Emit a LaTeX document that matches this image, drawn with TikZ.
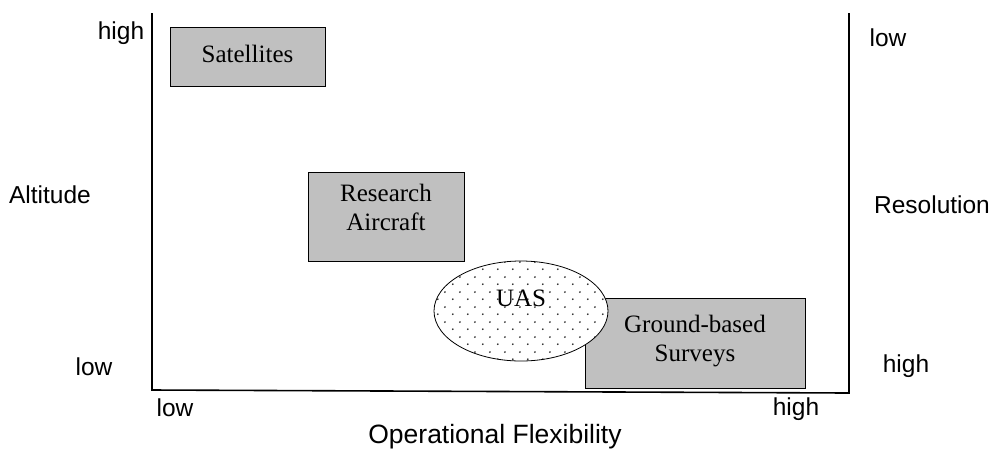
\documentclass[tikz,border=0pt]{standalone}
\usepackage{fontspec}
\setmainfont{Liberation Serif}
\setsansfont{Liberation Sans}
\usetikzlibrary{positioning, shapes.geometric, patterns.meta}

\tikzdeclarepattern{name=uasdots, type=uncolored,
  bounding box={(0pt,0pt) and (15pt,15pt)}, tile size={(15pt,15pt)},
  code={\fill (3pt,3pt) circle (1pt); \fill (10.5pt,10.5pt) circle (1pt);}}

\tikzset{
  platform/.style={draw, thick, fill={rgb,255:red,192;green,192;blue,192}, inner sep=0pt},
  boxtext/.style={align=center, font=\fontsize{25}{29}\selectfont, inner sep=0pt},
  axislabel/.style={font=\sffamily\fontsize{24.5}{27}\selectfont, inner sep=0pt}
}

\begin{document}
\begin{tikzpicture}[x=1pt, y=-1pt]
	\useasboundingbox (0,0) rectangle (995,451);
	% axes
	\coordinate (tl) at (152,13);
	\coordinate (o) at (152,390);
	\coordinate (br) at (849,393);
	\coordinate (tr) at (849,13);
	\draw[line width=1.6pt] (tl) -- (o) -- (br) -- (tr);
	% platforms
	\node[platform, minimum width=155pt, minimum height=59pt] (sat) at (247.5,56.5) {};
	\node[platform, minimum width=156pt, minimum height=89pt] (air) at (386,216.5) {};
	\node[platform, minimum width=220pt, minimum height=90pt] (gnd) at (695,343) {};
	\node[draw, thick, ellipse, inner sep=0pt, minimum width=174pt, minimum height=100pt,
		preaction={fill=white}, pattern={uasdots}, pattern color=black!85] (uas) at (521,311) {};
	\node[boxtext] (sattext) at ([yshift=3pt]sat.center) {Satellites};
	\node[boxtext] (airtext) at ([yshift=9pt]air.center) {Research\\Aircraft};
	\node[boxtext] (gndtext) at ([yshift=2pt]gnd.center) {Ground-based\\Surveys};
	\node[boxtext] (uastext) at ([yshift=13pt]uas.center) {UAS};
	% labels
	\node[axislabel] (alt) at (50,195) {Altitude};
	\node[axislabel] (althi) at (121,33) {high};
	\node[axislabel] (altlo) at (94,367) {low};
	\node[axislabel] (res) at (932,205) {Resolution};
	\node[axislabel] (reslo) at (888,38) {low};
	\node[axislabel] (reshi) at (906,366) {high};
	\node[axislabel] (flexlo) at (175,408) {low};
	\node[axislabel] (flexhi) at (796,409) {high};
	\node[axislabel, font=\sffamily\fontsize{26.5}{29}\selectfont] (flex) at (495,437) {Operational Flexibility};
\end{tikzpicture}
\end{document}
